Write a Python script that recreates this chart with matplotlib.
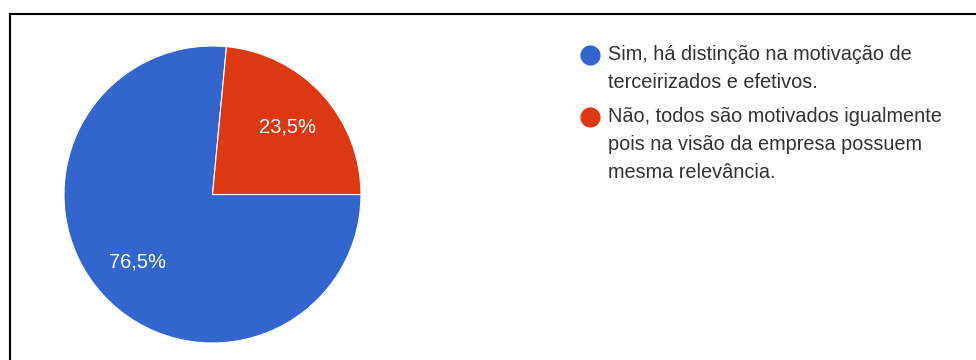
import matplotlib
matplotlib.use("Agg")
import matplotlib.pyplot as plt
from matplotlib.lines import Line2D

labels = [
    "Sim, há distinção na motivação de\nterceirizados e efetivos.",
    "Não, todos são motivados igualmente\npois na visão da empresa possuem\nmesma relevância.",
]
values = [76.5, 23.5]
colors = ["#3366CC", "#DC3912"]

W, H = 976, 360
plt.rcParams["font.family"] = ["Liberation Sans", "DejaVu Sans"]
fig = plt.figure(figsize=(W / 100, H / 100), dpi=100)


def fx(px):
    return px / W


def fy(py):
    return 1 - py / H


# pie axes (pixel layout)
cx, cy, r = 212.5, 194.5, 148.5
ax = fig.add_axes([fx(cx - r), fy(cy + r), 2 * r / W, 2 * r / H])
ax.pie(
    values,
    colors=colors,
    startangle=360 * values[1] / 100,
    counterclock=True,
    radius=1.0,
    autopct=lambda p: f"{p:.1f}%".replace(".", ","),
    pctdistance=0.68,
    wedgeprops=dict(edgecolor="white", linewidth=0.8),
    textprops=dict(color="white", fontsize=14.5),
)
ax.set_xlim(-1, 1)
ax.set_ylim(-1, 1)
ax.set_aspect("equal")
ax.axis("off")

# legend
text_x = 608
marker_x = 590
item_tops = [55, 117]
line_gap = 27.5
for lab, col, yc in zip(labels, colors, item_tops):
    fig.add_artist(Line2D([fx(marker_x)], [fy(yc)], marker="o", markersize=14.5,
                          color=col, markeredgewidth=0, transform=fig.transFigure))
    for i, line in enumerate(lab.split("\n")):
        fig.text(fx(text_x), fy(yc + i * line_gap), line, ha="left", va="center",
                 fontsize=14.3, color="#333333")

# frame lines
fig.add_artist(Line2D([fx(10), fx(976)], [fy(14), fy(14)], color="black",
                      linewidth=1.5, transform=fig.transFigure))
fig.add_artist(Line2D([fx(10), fx(10)], [fy(14), fy(360)], color="black",
                      linewidth=1.5, transform=fig.transFigure))

fig.savefig("out.png", dpi=100, facecolor="white")
